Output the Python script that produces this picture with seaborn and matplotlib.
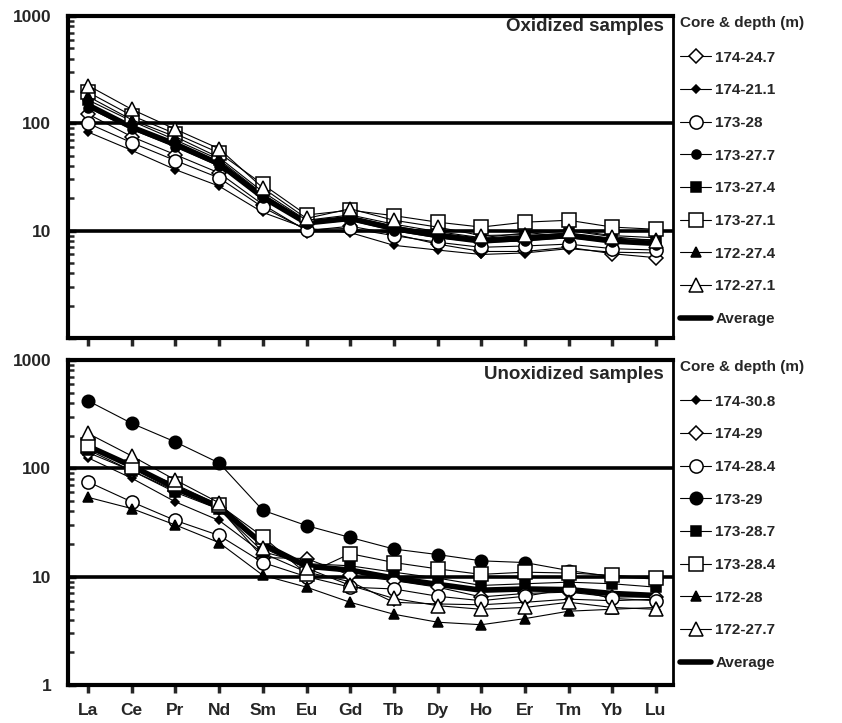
import numpy as np
import matplotlib
matplotlib.use("Agg")
import matplotlib.pyplot as plt
import seaborn as sns

elements = ["La", "Ce", "Pr", "Nd", "Sm", "Eu", "Gd", "Tb", "Dy", "Ho", "Er", "Tm", "Yb", "Lu"]

# Oxidized samples
ox_174_24_7 = [122, 75, 51, 34.5, 17.5, 10.0, 11.0, 9.3, 7.5, 6.4, 6.4, 7.0, 6.1, 5.6]
ox_174_21_1 = [83, 56, 37, 26, 14.8, 10.5, 9.6, 7.3, 6.6, 6.0, 6.2, 6.8, 6.3, 6.2]
ox_173_28 = [100, 66, 45, 31, 16.5, 10.2, 10.5, 9.0, 7.8, 7.0, 7.2, 7.5, 6.8, 6.6]
ox_173_27_7 = [140, 88, 60, 40, 20, 11.5, 12.5, 10.0, 8.6, 7.8, 8.0, 8.6, 7.8, 7.4]
ox_173_27_4 = [165, 105, 70, 46, 22, 12.0, 13.5, 11.0, 9.5, 8.5, 9.0, 9.5, 8.5, 8.2]
ox_173_27_1 = [195, 118, 80, 53, 27, 14.0, 15.5, 13.8, 12.0, 10.8, 12.0, 12.5, 10.8, 10.3]
ox_172_27_4 = [178, 108, 75, 48, 23, 12.5, 14.0, 11.5, 9.8, 8.6, 9.5, 10.2, 9.0, 8.6]
ox_172_27_1 = [225, 135, 88, 58, 25, 13.0, 16.0, 12.5, 10.8, 9.0, 9.2, 10.0, 8.8, 8.0]
ox_average = [148, 92, 64, 42, 20.5, 11.8, 13.0, 10.5, 9.0, 8.0, 8.5, 9.0, 8.0, 7.6]

# Unoxidized samples
un_174_30_8 = [125, 81, 49, 33, 16.5, 11.0, 9.0, 5.8, 5.6, 5.5, 5.8, 6.2, 6.0, 6.2]
un_174_29 = [140, 95, 62, 43, 15.0, 14.7, 10.3, 9.2, 8.0, 6.5, 7.0, 7.2, 6.5, 6.5]
un_174_28_4 = [75, 49, 33, 24, 13.5, 10.0, 8.0, 7.7, 6.6, 6.0, 6.6, 7.7, 6.3, 6.0]
un_173_29 = [420, 260, 175, 112, 41, 29.6, 23, 18, 16, 14, 13.5, 11.4, 10.0, 9.5]
un_173_28_7 = [148, 95, 60, 42, 17, 13.2, 12.6, 11.0, 9.7, 8.3, 8.6, 8.9, 8.6, 8.0]
un_173_28_4 = [165, 102, 71, 46, 23.4, 10.6, 16.3, 13.5, 11.8, 10.5, 11.0, 10.8, 10.3, 9.7]
un_172_28 = [54, 42.5, 30, 20.6, 10.3, 8.0, 5.8, 4.5, 3.8, 3.6, 4.1, 4.8, 5.0, 5.2]
un_172_27_7 = [210, 130, 78, 48, 18.5, 12.0, 8.3, 6.3, 5.4, 5.0, 5.2, 5.8, 5.2, 5.0]
un_average = [160, 105, 66, 44, 20, 12.5, 11.5, 9.7, 8.5, 7.5, 7.7, 7.6, 7.0, 6.7]

ox_labels = ["174-24.7", "174-21.1", "173-28", "173-27.7", "173-27.4", "173-27.1", "172-27.4", "172-27.1", "Average"]
ox_series = [ox_174_24_7, ox_174_21_1, ox_173_28, ox_173_27_7, ox_173_27_4, ox_173_27_1, ox_172_27_4, ox_172_27_1, ox_average]
un_labels = ["174-30.8", "174-29", "174-28.4", "173-29", "173-28.7", "173-28.4", "172-28", "172-27.7", "Average"]
un_series = [un_174_30_8, un_174_29, un_174_28_4, un_173_29, un_173_28_7, un_173_28_4, un_172_28, un_172_27_7, un_average]

# marker styles: (marker, size, facecolor)
STY = {
    "open_diamond": ("D", 7.5, "white"),
    "filled_diamond": ("D", 4.5, "black"),
    "open_circle": ("o", 9.5, "white"),
    "filled_circle_s": ("o", 6.5, "black"),
    "filled_circle_l": ("o", 9.0, "black"),
    "filled_square": ("s", 6.5, "black"),
    "open_square": ("s", 10, "white"),
    "filled_triangle": ("^", 6.5, "black"),
    "open_triangle": ("^", 10, "white"),
}
ox_styles = ["open_diamond", "filled_diamond", "open_circle", "filled_circle_s", "filled_square",
             "open_square", "filled_triangle", "open_triangle", None]
un_styles = ["filled_diamond", "open_diamond", "open_circle", "filled_circle_l", "filled_square",
             "open_square", "filled_triangle", "open_triangle", None]

sns.set_style("ticks")
plt.rcParams["font.family"] = ["Liberation Sans", "DejaVu Sans"]
plt.rcParams["font.weight"] = "bold"

W, H = 842, 723
fig = plt.figure(figsize=(W / 100, H / 100), dpi=100)
ax1 = fig.add_axes([68 / W, 1 - 338 / H, 605 / W, 322 / H])
ax2 = fig.add_axes([68 / W, 1 - 685 / H, 605 / W, 325 / H])

x = np.arange(len(elements))


def draw(ax, labels, series, styles, title, title_y, show_xlabels, show_one):
    ax.set_yscale("log")
    ax.set_ylim(1, 1000)
    ax.set_xlim(-0.46, 13.39)
    ax.grid(False)
    for yv in [10, 100]:
        ax.axhline(yv, color="black", lw=2.6, zorder=1)
    for lab, vals, st in zip(labels, series, styles):
        if st is None:
            sns.lineplot(x=x, y=vals, ax=ax, color="black", lw=4, label=lab, zorder=3)
        else:
            m, ms, fc = STY[st]
            sns.lineplot(x=x, y=vals, ax=ax, color="black", lw=0.8, marker=m, markersize=ms,
                         markerfacecolor=fc, markeredgecolor="black", markeredgewidth=1.1,
                         label=lab, zorder=4)
    for side, w in [("left", 3), ("bottom", 3), ("top", 3), ("right", 2)]:
        ax.spines[side].set_linewidth(w)
        ax.spines[side].set_color("black")
    ax.set_xticks(x)
    if show_xlabels:
        ax.set_xticklabels(elements, fontsize=12.5, fontweight="bold")
    else:
        ax.set_xticklabels([])
    ax.tick_params(axis="x", direction="out", length=6, width=2.5, pad=7)
    ax.set_yticks([1, 10, 100, 1000])
    ax.set_yticklabels(["1" if show_one else "", "10", "100", "1000"], fontsize=12.5, fontweight="bold")
    ax.yaxis.set_minor_locator(matplotlib.ticker.LogLocator(base=10, subs=np.arange(2, 10)))
    ax.yaxis.set_minor_formatter(matplotlib.ticker.NullFormatter())
    ax.tick_params(axis="y", which="major", direction="in", length=6, width=2.5, pad=12)
    ax.tick_params(axis="y", which="minor", direction="in", length=4, width=1.8)
    ax.set_xlabel("")
    ax.set_ylabel("")
    ax.text(0.985, title_y, title, transform=ax.transAxes, ha="right", va="center",
            fontsize=13.5, fontweight="bold")
    handles, labs = ax.get_legend_handles_labels()
    leg = ax.legend(handles, labs, loc="upper left", bbox_to_anchor=(1.012, 1.0),
                    frameon=False, title="Core & depth (m)", alignment="left",
                    prop={"size": 11, "weight": "bold"},
                    title_fontproperties={"size": 11, "weight": "bold"},
                    handlelength=2.0, handletextpad=0.3, labelspacing=1.22,
                    borderpad=0, borderaxespad=0)
    leg._legend_box.sep = 15


draw(ax1, ox_labels, ox_series, ox_styles, "Oxidized samples", 0.966, False, False)
draw(ax2, un_labels, un_series, un_styles, "Unoxidized samples", 0.954, True, True)

fig.savefig("out.png", dpi=100)
